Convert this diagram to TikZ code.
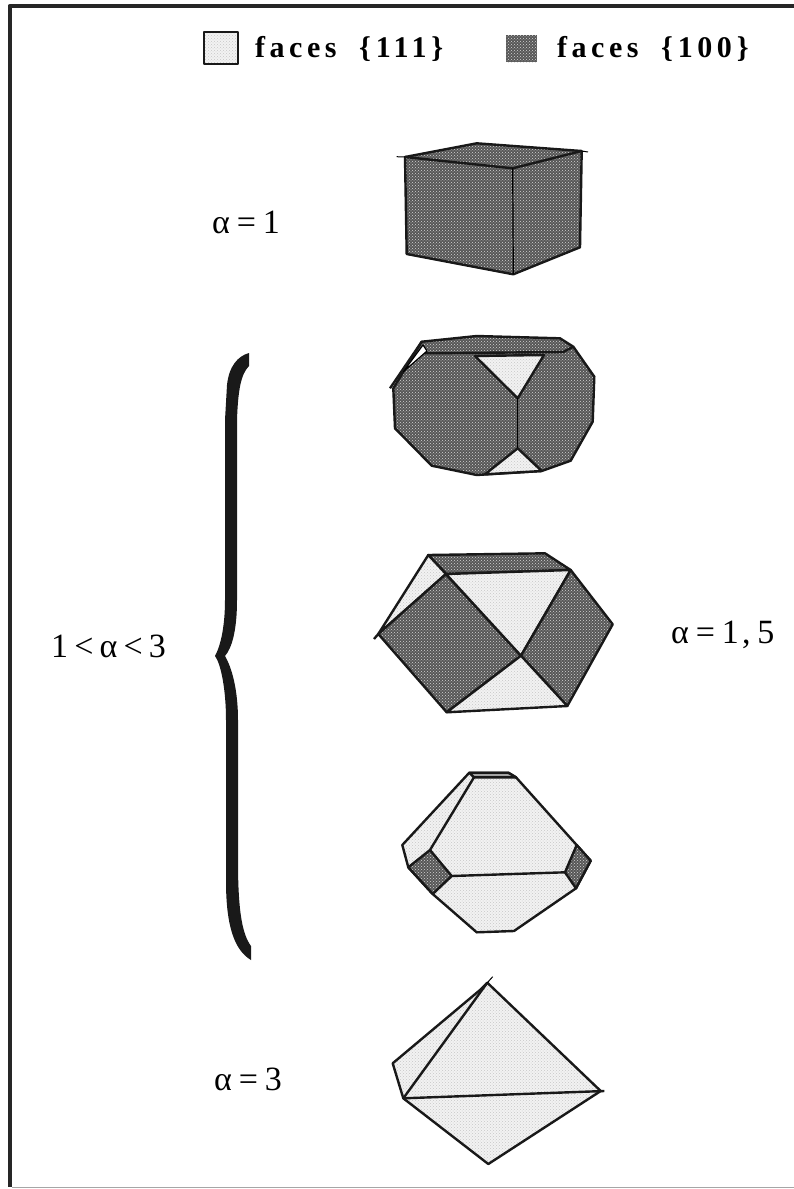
\documentclass[tikz,border=0pt]{standalone}
\usepackage{fontspec}
\setmainfont{Liberation Serif}
\newfontfamily\legendfont[LetterSpace=15]{Liberation Serif}
\usepackage{tikz}
\usetikzlibrary{patterns}
\usepackage{xcolor}
\definecolor{facedark}{gray}{0.34}
\definecolor{facelight}{gray}{0.95}
\newcommand{\gap}{\hspace{.2em}}

\begin{document}
\begin{tikzpicture}[
  x=1pt, y=-1pt,
  line join=round,
  font=\fontsize{34}{38}\selectfont,
  valuelabel/.style={anchor=base west, inner sep=0pt},
  legend/.style={anchor=base west, inner sep=0pt, font=\fontsize{30}{34}\selectfont\legendfont\bfseries},
  edge/.style={draw=black!90, line width=2.4pt},
  dark/.style={edge, preaction={fill=facedark}, pattern=crosshatch dots, pattern color=white!75!facedark},
  light/.style={edge, preaction={fill=facelight}, pattern=crosshatch dots, pattern color=black!22}
]
\useasboundingbox (0,0) rectangle (794,1189);

% frame
\draw[line width=4pt, black!85] (794,6) -- (9.5,6) -- (9.5,1187);
\draw[line width=1pt, black!35] (12,1187.5) -- (794,1187.5);

% legend
\path[light, line width=1.2pt] (204,32) rectangle (238,64);
\path[dark, draw=none] (506,35) rectangle (537,62);
\node[legend] (f111) at (255,57) {faces\hspace{.75em}{\char`\{}\,111\,{\char`\}}};
\node[legend] (f100) at (557,57) {faces\hspace{.75em}{\char`\{}\,100\,{\char`\}}};

% labels
\node[valuelabel] (a1) at (212,233) {α\gap=\gap1};
\node[valuelabel] (a15) at (671,643) {α\gap=\gap1\hspace{.1em},\hspace{.2em}5};
\node[valuelabel] (a3) at (214,1090) {α\gap=\gap3};
\node[valuelabel] (range) at (51,657) {1\hspace{.18em}<\hspace{.18em}α\hspace{.18em}<\hspace{.18em}3};

% brace
\fill[black!90] (249,353) .. controls (238,356) and (229,366) .. (227,385)
  -- (225,420) -- (225,600) .. controls (225,625) and (221,645) .. (215,656)
  .. controls (221,664) and (226,690) .. (226,720) -- (226,881)
  .. controls (226,925) and (234,950) .. (251,960) -- (251,946)
  .. controls (243,935) and (238,915) .. (238,861) -- (238,720)
  .. controls (238,690) and (232,668) .. (225,656)
  .. controls (232,648) and (237,630) .. (237,600) -- (237,420)
  .. controls (238,390) and (241,374) .. (249,366) -- cycle;

% alpha = 1
\path[dark] (405,157) -- (476.7,143.3) -- (581.7,151) -- (580,247.3)
  -- (513.3,274.3) -- (406.7,254) -- cycle;
\draw[edge] (405,157) -- (512.7,168.3) -- (581.7,151);
\draw[line width=1pt] (396.7,156.7) -- (405,157);
\draw[line width=1pt] (581.7,151) -- (588,152);
\draw[line width=1.2pt] (512.7,168.3) -- (513.3,274.3);

% first truncated
\path[dark] (421.7,341.7) -- (476.7,336) -- (560,338.3) -- (573.3,346.7)
  -- (594.3,376.7) -- (592.7,421.7) -- (570.7,460.7) -- (541.7,471)
  -- (476.7,475) -- (431.7,465.7) -- (395,428.3) -- (393.3,388.3) -- cycle;
\draw[edge] (425,353.3) -- (563.3,352) -- (573.3,346.7);
\path[light] (475,356) -- (544,355) -- (517.7,398.3) -- cycle;
\path[light] (517.7,448.3) -- (541.7,471) -- (485,474.3) -- cycle;
\draw[line width=1.2pt] (517.7,398.3) -- (517.7,448.3);
\path[draw=black, line width=1.2pt, fill=white] (403.3,371.7) -- (423,345) -- (427,351) -- cycle;
\draw[edge] (390,388.3) -- (421.7,341.7);

% alpha = 1,5
\path[dark] (428.3,555) -- (545,553.3) -- (570.7,570) -- (446,574) -- cycle;
\path[light] (428.3,555) -- (446,574) -- (378.3,634) -- cycle;
\path[dark] (378.3,634) -- (446,574) -- (521,655.7) -- (446.7,712.3) -- cycle;
\path[light] (446,574) -- (570.7,570) -- (521,655.7) -- cycle;
\path[dark] (570.7,570) -- (612.7,624.3) -- (567.3,706) -- (521,655.7) -- cycle;
\path[light] (521,655.7) -- (567.3,706) -- (446.7,712.3) -- cycle;
\draw[edge] (374,639) -- (378.3,634);

% nearly octahedral
\path[light] (469.3,772.7) -- (508.3,772.7) -- (516,777.3) -- (590.7,860.7)
  -- (576,888.3) -- (514,931) -- (476.7,932.3) -- (432.7,894) -- (408.3,867.3)
  -- (402.3,845) -- cycle;
\path[edge, fill=facedark!50!facelight] (469.3,772.7) -- (508.3,772.7) -- (516,777.3) -- (474,777.3) -- cycle;
\draw[edge] (474,777.3) -- (430,850);
\draw[edge] (451.7,876) -- (565,872.3);
\path[dark] (408.3,867.3) -- (430,850) -- (451.7,876) -- (432.7,894) -- cycle;
\path[dark] (576.7,845) -- (590.7,860.7) -- (576,888.3) -- (565,872.3) -- cycle;

% alpha = 3
\path[light] (487.3,982.7) -- (600.7,1091) -- (488.3,1164) -- (403.3,1098.3)
  -- (392.7,1063.3) -- (480,990) -- cycle;
\draw[edge] (403.3,1098.3) -- (487.3,982.7);
\draw[edge] (403.3,1098.3) -- (604.3,1091);
\draw[line width=1pt] (487.3,982.7) -- (492.7,976.7);
\end{tikzpicture}
\end{document}
